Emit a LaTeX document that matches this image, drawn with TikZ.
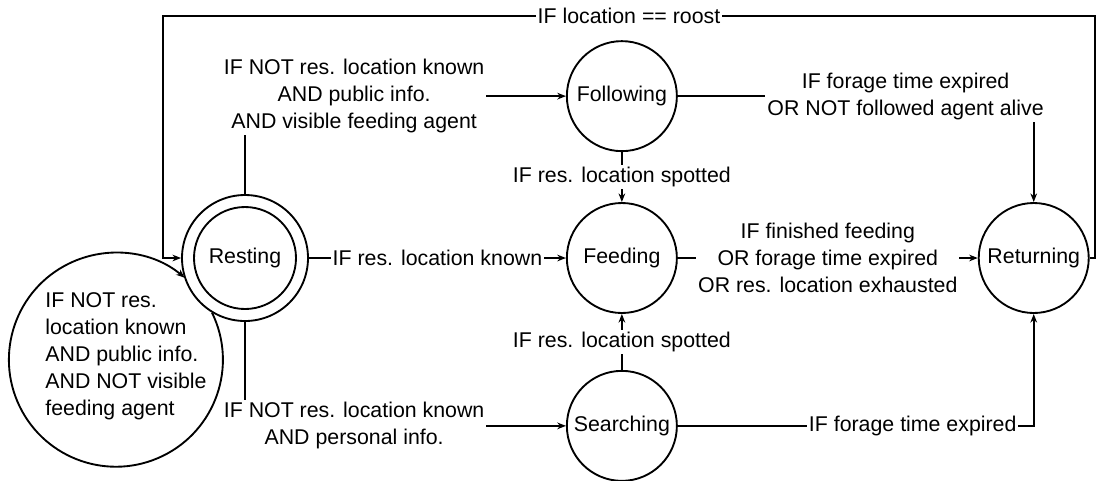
\documentclass[tikz,border=0pt]{standalone}
\usepackage{fontspec}
\setmainfont{Liberation Sans}
\usepackage{tikz}
\usetikzlibrary{arrows.meta}
\usetikzlibrary{positioning,calc}
\tikzstyle{statenode} = [draw,circle,inner sep=0pt,minimum size=82.5pt]
\tikzstyle{condlabel} = [fill=white,inner sep=1.5pt,align=center]

\begin{document}
\begin{tikzpicture}[x=0.75pt,y=-0.75pt,line width=1.4pt,>={Stealth[length=6.5pt,width=5pt]},font=\fontsize{16}{20.25}\selectfont]
%
\useasboundingbox (0,0) rectangle (1096,480);

\node (resting) [statenode,minimum size=94.5pt] at (245,258) {};
\node (restingin) [statenode,minimum size=76.5pt] at (resting) {Resting};
\node (feeding) [statenode,right=192.75pt of resting] {Feeding};
\node (following) [statenode,above=37.5pt of feeding] {Following};
\node (searching) [statenode,below=42pt of feeding] {Searching};
\node (returning) [statenode,right=225pt of feeding] {Returning};

\node (loopcond) [align=left,anchor=west] at (40,356) {IF NOT res.\\location known\\AND public info.\\AND NOT visible\\feeding agent};

\coordinate (topright) at (1095,16);
\coordinate (topleft) at (163,16);

%
\draw [->] (returning.east) -| (topright) -- node[condlabel] {IF location == roost} (topleft) |- (resting.west);
\draw [->] (resting.north) |- node[condlabel,pos=0.67] {IF NOT res. location known\\AND public info.\\AND visible feeding agent} (following.west);
\draw [->] (resting.east) -- node[condlabel] {IF res. location known} (feeding.west);
\draw [->] (resting.south) |- node[condlabel,pos=0.67] {IF NOT res. location known\\AND personal info.} (searching.west);
\draw [->] (resting.-121) arc[start angle=26,end angle=-310,radius=80.25pt];
\draw [->] (following.south) -- node[condlabel] {IF res. location spotted} (feeding.north);
\draw [->] (searching.north) -- node[condlabel] {IF res. location spotted} (feeding.south);
\draw [->] (feeding.east) -- node[condlabel] {IF finished feeding\\OR forage time expired\\OR res. location exhausted} (returning.west);
\draw [->] (following.east) -| node[condlabel,pos=0.32] {IF forage time expired\\OR NOT followed agent alive} (returning.north);
\draw [->] (searching.east) -| node[condlabel,pos=0.33] {IF forage time expired} (returning.south);
\end{tikzpicture}
\end{document}
